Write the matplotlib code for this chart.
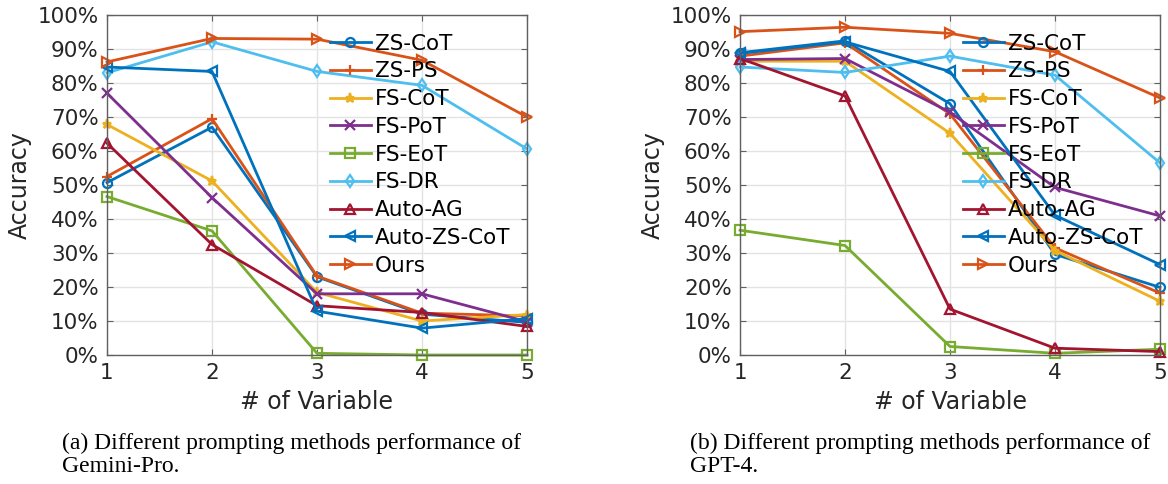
import numpy as np
import matplotlib
matplotlib.use('Agg')
import matplotlib.pyplot as plt
from matplotlib.ticker import FuncFormatter

# number of variables
num_vars = [1, 2, 3, 4, 5]

methods = ['ZS-CoT', 'ZS-PS', 'FS-CoT', 'FS-PoT', 'FS-EoT', 'FS-DR',
           'Auto-AG', 'Auto-ZS-CoT', 'Ours']

# accuracy (%) of Gemini-Pro
gemini_zs_cot = [50.7, 67.0, 23.0, 12.0, 9.6]
gemini_zs_ps = [52.5, 69.5, 23.2, 12.3, 11.5]
gemini_fs_cot = [67.8, 51.2, 18.4, 10.0, 11.9]
gemini_fs_pot = [77.0, 46.3, 18.0, 18.0, 9.8]
gemini_fs_eot = [46.6, 36.5, 0.5, 0.0, 0.0]
gemini_fs_dr = [83.0, 92.1, 83.4, 79.3, 60.6]
gemini_auto_ag = [62.3, 32.5, 14.5, 12.5, 8.4]
gemini_auto_zs_cot = [84.7, 83.4, 12.9, 7.9, 10.7]
gemini_ours = [86.2, 93.1, 92.9, 86.7, 70.0]

# accuracy (%) of GPT-4
gpt4_zs_cot = [88.9, 92.4, 73.9, 29.6, 19.9]
gpt4_zs_ps = [87.9, 91.8, 70.9, 31.5, 18.2]
gpt4_fs_cot = [86.4, 86.4, 65.2, 30.7, 15.8]
gpt4_fs_pot = [86.9, 87.2, 71.4, 49.3, 40.9]
gpt4_fs_eot = [36.7, 32.2, 2.5, 0.5, 1.7]
gpt4_fs_dr = [84.7, 83.1, 87.9, 82.3, 56.5]
gpt4_auto_ag = [87.2, 76.2, 13.5, 2.0, 1.0]
gpt4_auto_zs_cot = [88.7, 92.1, 83.4, 41.1, 26.6]
gpt4_ours = [95.1, 96.4, 94.6, 89.2, 75.6]

gemini = [gemini_zs_cot, gemini_zs_ps, gemini_fs_cot, gemini_fs_pot, gemini_fs_eot,
          gemini_fs_dr, gemini_auto_ag, gemini_auto_zs_cot, gemini_ours]
gpt4 = [gpt4_zs_cot, gpt4_zs_ps, gpt4_fs_cot, gpt4_fs_pot, gpt4_fs_eot,
        gpt4_fs_dr, gpt4_auto_ag, gpt4_auto_zs_cot, gpt4_ours]

# matlab default colour order
colors = ['#0072BD', '#D95319', '#EDB120', '#7E2F8E', '#77AC30', '#4DBEEE',
          '#A2142F', '#0072BD', '#D95319']
markers = ['o', '+', '*', 'x', 's', 'd', '^', '<', '>']

captions = ['(a) Different prompting methods performance of\nGemini-Pro.',
            '(b) Different prompting methods performance of\nGPT-4.']

fig = plt.figure(figsize=(11.68, 4.84), dpi=100)
W, H = 1168.0, 484.0
ax_left = [107, 740]
cap_left = [62, 690]


def draw_panel(ax, data):
    for vals, name, c, m in zip(data, methods, colors, markers):
        ax.plot(num_vars, vals, color=c, marker=m, lw=2.0, ms=6.5,
                mfc='none', mew=1.6, label=name, clip_on=False)
    ax.set_xlim(1, 5)
    ax.set_ylim(0, 100)
    ax.set_xticks(num_vars)
    ax.set_yticks(np.arange(0, 101, 10))
    ax.yaxis.set_major_formatter(FuncFormatter(lambda v, p: '%d%%' % v))
    ax.grid(True, color='#e3e3e3', lw=1.0)
    ax.set_axisbelow(True)
    ax.tick_params(direction='in', length=4, labelsize=15.5, colors='#606060',
                   labelcolor='#262626', pad=6, top=True, right=True)
    for s in ax.spines.values():
        s.set_color('#606060')
        s.set_linewidth(1.0)
    ax.set_xlabel('# of Variable', fontsize=17, color='#262626', labelpad=5)
    ax.set_ylabel('Accuracy', fontsize=17, color='#262626', labelpad=4)
    ax.legend(loc='upper left', bbox_to_anchor=(0.53, 0.945), frameon=False,
              fontsize=15.5, handlelength=1.9, handletextpad=0.2,
              labelspacing=0.36, borderpad=0, borderaxespad=0)


for i, data in enumerate([gemini, gpt4]):
    ax = fig.add_axes([ax_left[i] / W, 1 - 355 / H, 420 / W, 340 / H])
    draw_panel(ax, data)
    fig.text(cap_left[i] / W, 1 - 433 / H, captions[i], ha='left', va='top',
             fontsize=17, family='Liberation Serif', linespacing=1.12)

fig.savefig('out.png', dpi=100)
